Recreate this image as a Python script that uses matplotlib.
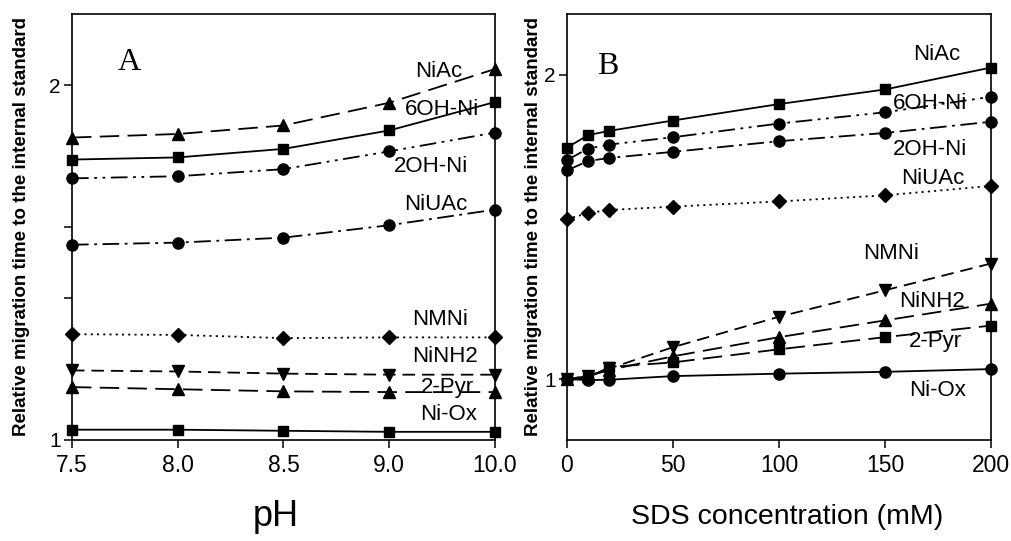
import matplotlib

matplotlib.use("Agg")

import matplotlib.pyplot as plt

plt.rcParams["font.family"] = ["Liberation Sans", "DejaVu Sans"]
plt.rcParams["lines.scale_dashes"] = False

# panel A: pH series (equally spaced categories)
ph_labels = ["7.5", "8.0", "8.5", "9.0", "10.0"]
a_niac = [1.852, 1.862, 1.886, 1.950, 2.045]
a_6ohni = [1.790, 1.796, 1.820, 1.872, 1.952]
a_2ohni = [1.737, 1.743, 1.763, 1.813, 1.866]
a_niuac = [1.550, 1.556, 1.570, 1.605, 1.649]
a_nmni = [1.298, 1.296, 1.287, 1.289, 1.289]
a_ninh2 = [1.196, 1.193, 1.187, 1.184, 1.184]
a_2pyr = [1.149, 1.143, 1.137, 1.135, 1.135]
a_niox = [1.029, 1.029, 1.026, 1.023, 1.023]

# panel B: SDS concentration (mM)
sds = [0, 10, 20, 50, 100, 150, 200]
b_niac = [1.761, 1.802, 1.816, 1.850, 1.904, 1.952, 2.024]
b_6ohni = [1.720, 1.758, 1.771, 1.795, 1.840, 1.877, 1.928]
b_2ohni = [1.686, 1.717, 1.727, 1.747, 1.782, 1.809, 1.846]
b_niuac = [1.526, 1.546, 1.556, 1.567, 1.584, 1.604, 1.635]
b_nmni = [1.0, 1.01, 1.035, 1.105, 1.205, 1.292, 1.380]
b_ninh2 = [1.0, 1.01, 1.03, 1.075, 1.138, 1.193, 1.248]
b_2pyr = [1.0, 1.005, 1.04, 1.055, 1.098, 1.138, 1.176]
b_niox = [1.0, 0.997, 0.998, 1.010, 1.018, 1.024, 1.033]

SOLID = (0, ())
LONG = (0, (14, 6))
DASH = (0, (9, 5))
DASHDOT = (0, (12, 4, 2, 4))
DASHDOTDOT = (0, (12, 4, 2, 4, 2, 4))
DOT = (0, (1.5, 3))


def style_axes(ax):
    for side in ax.spines.values():
        side.set_linewidth(1.2)
    ax.tick_params(direction="out", length=6, width=1.1, colors="black")
    ax.tick_params(axis="x", labelsize=16.5, pad=4)
    ax.tick_params(axis="y", labelsize=15, pad=2)


def draw(ax, x, y, marker, ls, ms=8):
    ax.plot(x, y, color="black", lw=1.3, linestyle=ls, marker=marker,
            markersize=ms, markerfacecolor="black", markeredgecolor="black",
            clip_on=False, zorder=3)


fig = plt.figure(figsize=(10.11, 5.41), dpi=100)

# ---- panel A ----
axA = fig.add_axes([0.0712, 0.1867, 0.4184, 0.7874])
xa = list(range(len(ph_labels)))
draw(axA, xa, a_niac, "^", LONG)
draw(axA, xa, a_6ohni, "s", SOLID, 7.5)
draw(axA, xa, a_2ohni, "o", DASHDOTDOT)
draw(axA, xa, a_niuac, "o", DASHDOT)
draw(axA, xa, a_nmni, "D", DOT, 7)
draw(axA, xa, a_ninh2, "v", DASH)
draw(axA, xa, a_2pyr, "^", LONG)
draw(axA, xa, a_niox, "s", SOLID, 7.5)
axA.set_xlim(0, 4)
axA.set_ylim(1.0, 2.2)
axA.set_xticks(xa)
axA.set_xticklabels(ph_labels)
axA.set_yticks([1, 1.4, 1.6, 2])
axA.set_yticklabels(["1", "", "", "2"])
style_axes(axA)

labels_a = [("NiAc", 0.868, 0.864), ("6OH-Ni", 0.875, 0.775),
            ("2OH-Ni", 0.849, 0.641), ("NiUAc", 0.861, 0.554),
            ("NMNi", 0.870, 0.284), ("NiNH2", 0.882, 0.197),
            ("2-Pyr", 0.887, 0.124), ("Ni-Ox", 0.891, 0.061)]
for name, fx, fy in labels_a:
    axA.text(fx, fy, name, transform=axA.transAxes, fontsize=16,
             ha="center", va="center")

# ---- panel B ----
axB = fig.add_axes([0.5608, 0.1867, 0.4194, 0.7874])
draw(axB, sds, b_niac, "s", SOLID, 7.5)
draw(axB, sds, b_6ohni, "o", DASHDOTDOT)
draw(axB, sds, b_2ohni, "o", DASHDOT)
draw(axB, sds, b_niuac, "D", DOT, 7)
draw(axB, sds, b_nmni, "v", DASH)
draw(axB, sds, b_ninh2, "^", LONG)
draw(axB, sds, b_2pyr, "s", LONG, 7.5)
draw(axB, sds, b_niox, "o", SOLID)
axB.set_xlim(0, 200)
axB.set_ylim(0.8, 2.2)
axB.set_xticks([0, 50, 100, 150, 200])
axB.set_yticks([1, 2])
axB.set_yticklabels(["1", "2"])
style_axes(axB)

labels_b = [("NiAc", 0.873, 0.904), ("6OH-Ni", 0.856, 0.791),
            ("2OH-Ni", 0.856, 0.681), ("NiUAc", 0.863, 0.615),
            ("NMNi", 0.764, 0.437), ("NiNH2", 0.861, 0.324),
            ("2-Pyr", 0.868, 0.232), ("Ni-Ox", 0.873, 0.117)]
for name, fx, fy in labels_b:
    axB.text(fx, fy, name, transform=axB.transAxes, fontsize=16,
             ha="center", va="center")

# panel letters
fig.text(118 / 1011, 1 - 70 / 541, "A", fontsize=23,
         family=["Liberation Serif", "DejaVu Serif"], va="baseline")
fig.text(597 / 1011, 1 - 74 / 541, "B", fontsize=23,
         family=["Liberation Serif", "DejaVu Serif"], va="baseline")

# axis titles
ylab = "Relative migration time to the internal standard"
fig.text(22 / 1011, 1 - 227 / 541, ylab, rotation=90, fontsize=13.5,
         fontweight="bold", ha="center", va="center")
fig.text(533 / 1011, 1 - 227 / 541, ylab, rotation=90, fontsize=13.5,
         fontweight="bold", ha="center", va="center")
fig.text(276 / 1011, 1 - 516 / 541, "pH", fontsize=26, ha="center", va="center")
fig.text(787 / 1011, 1 - 517 / 541, "SDS concentration (mM)", fontsize=20.5,
         ha="center", va="center")

fig.savefig("out.png", dpi=100)
plt.close(fig)
